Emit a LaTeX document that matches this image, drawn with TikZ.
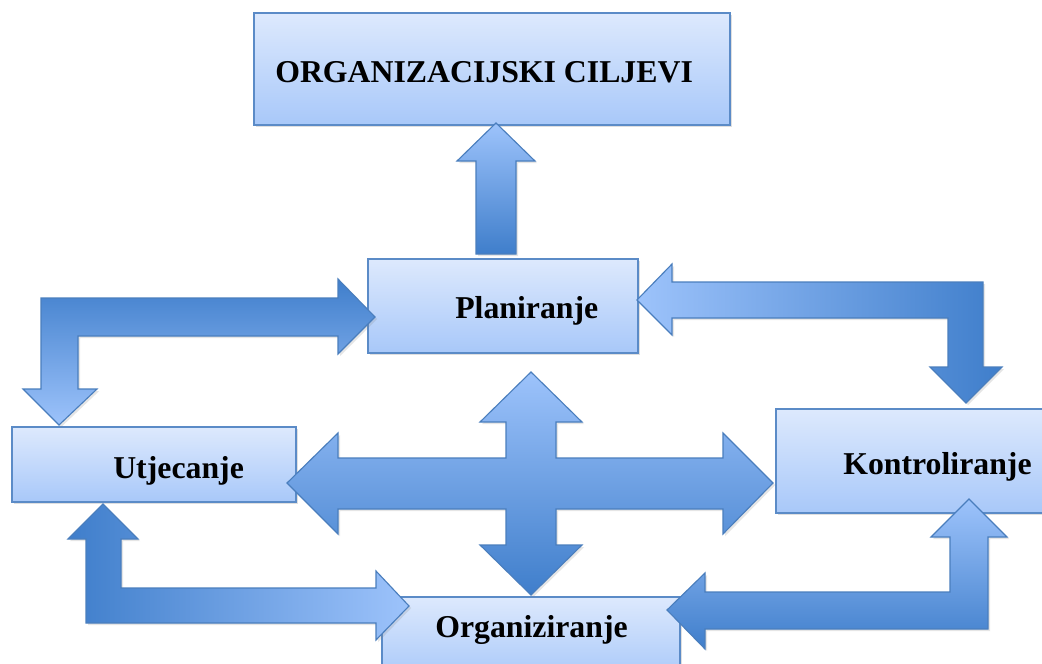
\documentclass[tikz,border=0pt]{standalone}
\usepackage{fontspec}
\setmainfont{Liberation Serif}
\usetikzlibrary{shadows}
\definecolor{boxtop}{HTML}{DDE9FD}
\definecolor{boxbot}{HTML}{A8C8F9}
\definecolor{boxline}{HTML}{5B8BC7}
\definecolor{arlight}{HTML}{9DC3FB}
\definecolor{ardark}{HTML}{3F7ECB}
\definecolor{arline}{HTML}{4A7EBD}
\tikzset{
  box/.style={draw=boxline, line width=0.9pt, top color=boxtop, bottom color=boxbot,
    drop shadow={opacity=0.25, shadow xshift=1.5pt, shadow yshift=-1.5pt}},
  blockarrow/.style={draw=arline, line width=0.8pt, line join=miter,
    drop shadow={opacity=0.2, shadow xshift=1.5pt, shadow yshift=-1.5pt}},
  lbl/.style={font=\fontsize{22.6}{27}\selectfont\bfseries, inner sep=0pt, anchor=base west}
}
\begin{document}
\begin{tikzpicture}[x=0.025cm, y=-0.025cm]
  \clip (0,0) rectangle (1042,664);
  \fill[white] (0,0) rectangle (1042,664);

  % boxes
  \path[box] (254,13) rectangle (730,125);
  \path[box] (368,259) rectangle (638,353);
  \path[box] (12,427) rectangle (296,502);
  \path[box] (776,409) rectangle (1050,513);
  \path[box] (382,597) rectangle (680,680);

  \node[lbl] (ciljevi) at (275,82) {ORGANIZACIJSKI CILJEVI};
  \node[lbl] (plan) at (455,318) {Planiranje};
  \node[lbl] (utj) at (113,478) {Utjecanje};
  \node[lbl] (kontr) at (843,474) {Kontroliranje};
  \node[lbl] (org) at (435,637) {Organiziranje};

  % arrows
  \path[blockarrow, top color=arlight, bottom color=ardark]
    (476,254) -- (476,161) -- (457,161) -- (496,123) -- (535,161) -- (516,161) -- (516,254) -- cycle;
  \path[blockarrow, top color=ardark, bottom color=arlight]
    (375,317) -- (338,354) -- (338,336) -- (78,336) -- (78,389) -- (97,389) -- (59,425)
    -- (23,389) -- (41,389) -- (41,298) -- (338,298) -- (338,279) -- cycle;
  \path[blockarrow, left color=arlight, right color=ardark]
    (637,300) -- (672,264) -- (672,282) -- (983,282) -- (983,367) -- (1002,367) -- (966,403)
    -- (930,367) -- (948,367) -- (948,318) -- (672,318) -- (672,335) -- cycle;
  \path[blockarrow, left color=ardark, right color=arlight]
    (103,504) -- (138,539) -- (121,539) -- (121,588) -- (376,588) -- (376,571) -- (409,606)
    -- (376,640) -- (376,623) -- (86,623) -- (86,539) -- (68,539) -- cycle;
  \path[blockarrow, top color=arlight, bottom color=ardark]
    (969,499) -- (1007,537) -- (988,537) -- (988,629) -- (705,629) -- (705,649) -- (667,610)
    -- (705,573) -- (705,592) -- (950,592) -- (950,537) -- (931,537) -- cycle;
  \path[blockarrow, top color=arlight, bottom color=ardark]
    (531,372) -- (582,422) -- (556,422) -- (556,458) -- (723,458) -- (723,433) -- (773,483)
    -- (723,534) -- (723,509) -- (556,509) -- (556,545) -- (582,545) -- (531,595)
    -- (480,545) -- (506,545) -- (506,509) -- (338,509) -- (338,534) -- (287,483)
    -- (338,433) -- (338,458) -- (506,458) -- (506,422) -- (480,422) -- cycle;
\end{tikzpicture}
\end{document}
